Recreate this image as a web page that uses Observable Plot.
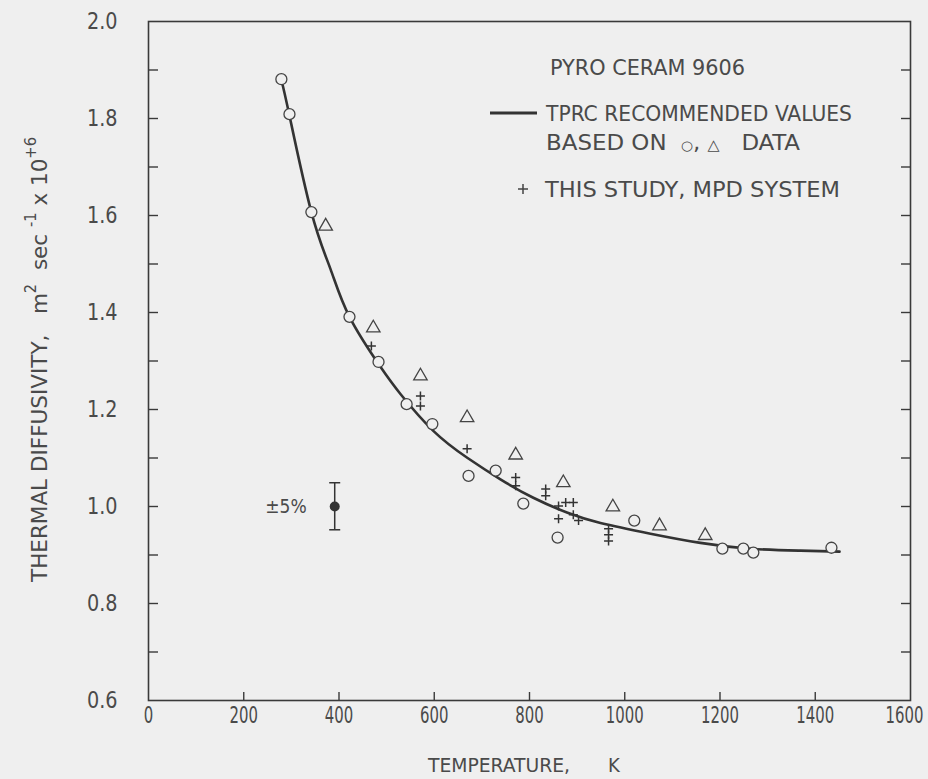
<!DOCTYPE html>
<html>
<head>
<meta charset="utf-8">
<script src="https://cdn.jsdelivr.net/npm/d3@7"></script>
<script src="https://cdn.jsdelivr.net/npm/@observablehq/plot@0.6"></script>
<style>
  html, body { margin: 0; padding: 0; background: #efefef; }
  #chart { width: 928px; height: 779px; }
</style>
</head>
<body>
<div id="chart"></div>
<script>
// ---- Tick values ----
const xTickLabels = [0, 200, 400, 600, 800, 1000, 1200, 1400, 1600];
const xInnerTicks = [200, 400, 600, 800, 1000, 1200, 1400];
const yTickLabels = [0.6, 0.8, 1.0, 1.2, 1.4, 1.6, 1.8, 2.0];
const yAllTicks = [0.7, 0.8, 0.9, 1.0, 1.1, 1.2, 1.3, 1.4, 1.5, 1.6, 1.7, 1.8, 1.9];

// ---- TPRC recommended curve (temperature K, diffusivity x1e-6 m^2/s) ----
const curveT = [279, 296, 342, 382, 422, 487, 529, 598, 670, 739, 808, 880, 949, 1054, 1159, 1264, 1369, 1451];
const curveV = [1.880, 1.806, 1.607, 1.490, 1.391, 1.288, 1.232, 1.156, 1.100, 1.056, 1.018, 0.987, 0.966, 0.944, 0.925, 0.913, 0.909, 0.907];

// ---- Circle data ----
const circleT = [279, 296, 342, 422, 483, 542, 596, 672, 729, 787, 859, 1020, 1205, 1249, 1270, 1434];
const circleV = [1.881, 1.809, 1.607, 1.391, 1.298, 1.211, 1.170, 1.063, 1.074, 1.006, 0.936, 0.971, 0.913, 0.913, 0.905, 0.915];

// ---- Triangle data ----
const triangleT = [372, 472, 571, 669, 771, 871, 975, 1073, 1169];
const triangleV = [1.578, 1.368, 1.269, 1.183, 1.106, 1.049, 0.999, 0.960, 0.940];

// ---- This study, MPD system (+) ----
const studyT = [468, 571, 571, 669, 771, 771, 834, 834, 861, 861, 876, 892, 892, 903, 966, 966, 966];
const studyV = [1.331, 1.228, 1.207, 1.119, 1.060, 1.043, 1.036, 1.022, 1.001, 0.975, 1.008, 1.008, 0.983, 0.971, 0.954, 0.942, 0.929];

// ---- ±5% error indicator ----
const errT = [391];
const errV = [1.0];
const errLo = [0.952];
const errHi = [1.049];
const errLabel = ["±5%"];

const zip = (xs, ys) => xs.map((x, i) => ({x, y: ys[i]}));
const curve = zip(curveT, curveV);
const circles = zip(circleT, circleV);
const triangles = zip(triangleT, triangleV);
const study = zip(studyT, studyV);
const err = errT.map((x, i) => ({x, y: errV[i], lo: errLo[i], hi: errHi[i], label: errLabel[i]}));

const crossSym = {draw(ctx, size) { const r = Math.sqrt(size / Math.PI); ctx.moveTo(-r, 0); ctx.lineTo(r, 0); ctx.moveTo(0, -r); ctx.lineTo(0, r); }};
const capSym = {draw(ctx, size) { const r = Math.sqrt(size / Math.PI); ctx.moveTo(-r, 0); ctx.lineTo(r, 0); }};

const FONT = "'DejaVu Sans Condensed', 'Liberation Sans Narrow', 'DejaVu Sans', sans-serif";
const INK = "#3a3a3a";
const TXT = "#4a4a4a";
const BG = "#efefef";

const chart = Plot.plot({
  width: 928,
  height: 779,
  marginLeft: 148,
  marginRight: 18,
  marginTop: 21,
  marginBottom: 79,
  style: {background: "transparent", fontFamily: FONT, color: TXT},
  x: {domain: [0, 1600], label: null},
  y: {domain: [0.6, 2.0], label: null},
  marks: [
    Plot.axisX({ticks: xInnerTicks, tickSize: -8, tickFormat: () => "", stroke: INK, strokeWidth: 1.4, label: null}),
    Plot.axisX({ticks: xTickLabels, tickSize: 0, tickPadding: 6, tickFormat: d3.format("d"), fontSize: 23, fill: TXT, label: null}),
    Plot.axisY({ticks: yAllTicks, tickSize: -10, tickFormat: () => "", stroke: INK, strokeWidth: 1.4, label: null}),
    Plot.axisY({ticks: yTickLabels, tickSize: 0, tickPadding: 31, tickFormat: d3.format(".1f"), fontSize: 23, fill: TXT, label: null}),
    Plot.axisY({anchor: "right", ticks: yAllTicks, tickSize: -10, tickFormat: () => "", stroke: INK, strokeWidth: 1.4, label: null}),
    Plot.frame({stroke: INK, strokeWidth: 1.6}),
    Plot.line(curve, {x: "x", y: "y", curve: "natural", stroke: "#333", strokeWidth: 2.6}),
    Plot.dot(circles, {x: "x", y: "y", r: 5.5, stroke: "#444", fill: BG, strokeWidth: 1.3}),
    Plot.dot(triangles, {x: "x", y: "y", symbol: "triangle", r: 5, stroke: "#444", fill: "none", strokeWidth: 1.3}),
    Plot.dot(study, {x: "x", y: "y", symbol: crossSym, r: 4.5, stroke: "#333", fill: "none", strokeWidth: 1.5}),
    Plot.ruleX(err, {x: "x", y1: "lo", y2: "hi", stroke: "#333", strokeWidth: 1.5}),
    Plot.dot(err, {x: "x", y: "lo", symbol: capSym, r: 5.5, stroke: "#333", fill: "none", strokeWidth: 1.5}),
    Plot.dot(err, {x: "x", y: "hi", symbol: capSym, r: 5.5, stroke: "#333", fill: "none", strokeWidth: 1.5}),
    Plot.dot(err, {x: "x", y: "y", r: 5, fill: "#333", stroke: "none"}),
    Plot.text(err, {x: "x", y: "y", text: "label", dx: -28, textAnchor: "end", fontSize: 19, fill: TXT})
  ]
});

document.getElementById("chart").appendChild(chart);

const svg = d3.select(chart);

// condense tick labels horizontally (narrow typeface of the original)
function squeeze(node, s) {
  let tr = node.getAttribute("transform");
  if (!tr) {
    const x = +node.getAttribute("x") || 0, y = +node.getAttribute("y") || 0;
    node.removeAttribute("x"); node.removeAttribute("y");
    tr = `translate(${x},${y})`;
  }
  node.setAttribute("transform", `${tr} scale(${s},1)`);
}
svg.selectAll('g[aria-label="x-axis tick label"] text').each(function(d, i, nodes) {
  squeeze(this, 0.72);
  if (i === nodes.length - 1) {
    this.setAttribute("text-anchor", "end");
    this.setAttribute("dx", "18");
  }
});
svg.selectAll('g[aria-label="y-axis tick label"] text').each(function() {
  squeeze(this, 0.93);
});

// ---- Legend and axis titles ----
const g = svg.append("g").attr("font-family", FONT).attr("fill", TXT).attr("text-anchor", "start");

function label(x, y, text, size, len) {
  const t = g.append("text").attr("x", x).attr("y", y).attr("font-size", size).text(text);
  if (len) t.attr("textLength", len).attr("lengthAdjust", "spacingAndGlyphs");
  return t;
}

label(550, 75, "PYRO CERAM 9606", 22, 195);
g.append("line").attr("x1", 490).attr("x2", 537).attr("y1", 113).attr("y2", 113)
  .attr("stroke", "#333").attr("stroke-width", 3);
label(546, 121, "TPRC RECOMMENDED VALUES", 22, 306);
const based = g.append("text").attr("x", 546).attr("y", 150).attr("font-size", 22)
  .attr("textLength", 254).attr("lengthAdjust", "spacingAndGlyphs");
based.append("tspan").text("BASED ON  ");
based.append("tspan").attr("font-size", 13).text("○");
based.append("tspan").text(", ");
based.append("tspan").attr("font-size", 15).text("△");
based.append("tspan").text("   DATA");
g.append("path").attr("d", "M518,189H528M523,184V194").attr("stroke", "#444").attr("stroke-width", 1.5);
label(545, 197, "THIS STUDY, MPD SYSTEM", 22, 295);

// x axis title
label(428, 772, "TEMPERATURE,", 20, 142);
label(608, 772, "K", 20);

// y axis title
const yt = g.append("text")
  .attr("transform", "translate(47,582) rotate(-90)")
  .attr("font-size", 22)
  .attr("textLength", 445).attr("lengthAdjust", "spacingAndGlyphs");
yt.append("tspan").text("THERMAL DIFFUSIVITY,   m");
yt.append("tspan").attr("font-size", 15).attr("dy", -11).text("2");
yt.append("tspan").attr("dy", 11).text("  sec ");
yt.append("tspan").attr("font-size", 15).attr("dy", -11).text("-1");
yt.append("tspan").attr("dy", 11).text(" x 10");
yt.append("tspan").attr("font-size", 15).attr("dy", -11).text("+6");
</script>
</body>
</html>
